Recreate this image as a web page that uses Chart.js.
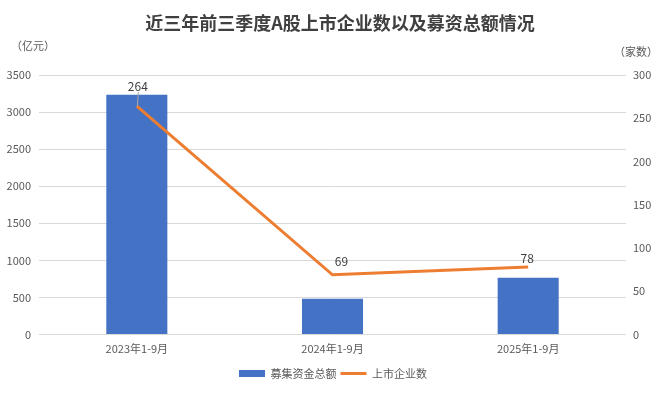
<!DOCTYPE html>
<html>
<head>
<meta charset="utf-8">
<script src="https://cdn.jsdelivr.net/npm/chart.js@4"></script>
<style>
  html, body { margin: 0; padding: 0; background: #fff; }
  #wrap { width: 666px; height: 394px; }
</style>
</head>
<body>
<div id="wrap"><canvas id="c" width="666" height="394"></canvas></div>
<script>
const categories = ['2023年1-9月', '2024年1-9月', '2025年1-9月'];
const fundsRaised = [3235, 483, 764];      // 募集资金总额（亿元）
const listedCount = [264, 69, 78];         // 上市企业数（家）
const leftTicks = [0, 500, 1000, 1500, 2000, 2500, 3000, 3500];
const rightTicks = [0, 50, 100, 150, 200, 250, 300];

const FONT = '"Noto Sans CJK SC", "Noto Sans", sans-serif';
const GRAY = '#595959';

const decor = {
  id: 'decor',
  afterDraw(chart) {
    const ctx = chart.ctx;
    ctx.save();
    ctx.fillStyle = '#404040';
    ctx.font = 'bold 18px ' + FONT;
    ctx.textAlign = 'center';
    ctx.textBaseline = 'middle';
    ctx.fillText('近三年前三季度A股上市企业数以及募资总额情况', 340, 23);
    ctx.fillStyle = GRAY;
    ctx.font = '11px ' + FONT;
    ctx.textAlign = 'left';
    ctx.fillText('（亿元）', 11, 46);
    ctx.fillText('（家数）', 614, 52);

    // data labels for the line
    const meta = chart.getDatasetMeta(1);
    const offsets = [[1, -20, true], [9, -13, false], [-1, -9, false]];
    ctx.font = '12px ' + FONT;
    ctx.textAlign = 'center';
    ctx.textBaseline = 'middle';
    meta.data.forEach((pt, i) => {
      const [dx, dy, leader] = offsets[i];
      const x = pt.x + dx, y = pt.y + dy;
      if (leader) {
        ctx.strokeStyle = '#A6A6A6';
        ctx.lineWidth = 1;
        ctx.beginPath();
        ctx.moveTo(x + 0.5, y + 6);
        ctx.lineTo(pt.x + 0.5, pt.y);
        ctx.stroke();
      }
      ctx.fillStyle = '#404040';
      ctx.fillText(String(listedCount[i]), x, y);
    });
    ctx.restore();
  }
};

const plain = v => String(v);

new Chart(document.getElementById('c'), {
  type: 'bar',
  data: {
    labels: categories,
    datasets: [
      {
        type: 'bar',
        label: '募集资金总额',
        data: fundsRaised,
        backgroundColor: '#4472C4',
        borderWidth: 0,
        yAxisID: 'y',
        order: 2,
        categoryPercentage: 1,
        barPercentage: 0.312,
        pointStyle: 'rect'
      },
      {
        type: 'line',
        label: '上市企业数',
        data: listedCount,
        borderColor: '#ED7D31',
        backgroundColor: '#ED7D31',
        borderWidth: 3,
        pointRadius: 0,
        tension: 0,
        yAxisID: 'y1',
        order: 1,
        pointStyle: 'line'
      }
    ]
  },
  options: {
    responsive: false,
    animation: false,
    devicePixelRatio: 1,
    layout: { padding: { top: 75, left: 0, right: 0, bottom: 5 } },
    plugins: {
      tooltip: { enabled: false },
      legend: {
        position: 'bottom',
        labels: {
          usePointStyle: true,
          pointStyleWidth: 26,
          boxHeight: 7,
          padding: 4,
          color: GRAY,
          font: { family: FONT, size: 11 },
          sort: (a, b) => a.datasetIndex - b.datasetIndex,
          generateLabels(chart) {
            const items = Chart.defaults.plugins.legend.labels.generateLabels(chart);
            items.forEach(it => {
              if (it.datasetIndex === 0) { it.lineWidth = 0; it.pointStyle = 'rect'; }
              else { it.lineWidth = 3; it.pointStyle = 'line'; it.strokeStyle = '#ED7D31'; }
            });
            return items;
          }
        }
      }
    },
    scales: {
      x: {
        offset: true,
        grid: { display: false, drawTicks: false },
        border: { display: false },
        ticks: { color: GRAY, font: { family: FONT, size: 11 }, padding: 8, maxRotation: 0 },
        afterFit(s) { s.height = 29.5; }
      },
      y: {
        position: 'left',
        min: 0, max: 3500,
        afterBuildTicks(s) { s.ticks = leftTicks.map(v => ({ value: v })); },
        grid: { color: '#D9D9D9', lineWidth: 1, drawTicks: false },
        border: { display: false },
        ticks: { color: GRAY, font: { family: FONT, size: 11 }, padding: 8, callback: plain },
        afterFit(s) { s.width = 39; }
      },
      y1: {
        position: 'right',
        min: 0, max: 300,
        afterBuildTicks(s) { s.ticks = rightTicks.map(v => ({ value: v })); },
        grid: { display: false, drawTicks: false },
        border: { display: false },
        ticks: { color: GRAY, font: { family: FONT, size: 11 }, padding: 7, callback: plain },
        afterFit(s) { s.width = 40; }
      }
    }
  },
  plugins: [decor]
});
</script>
</body>
</html>
